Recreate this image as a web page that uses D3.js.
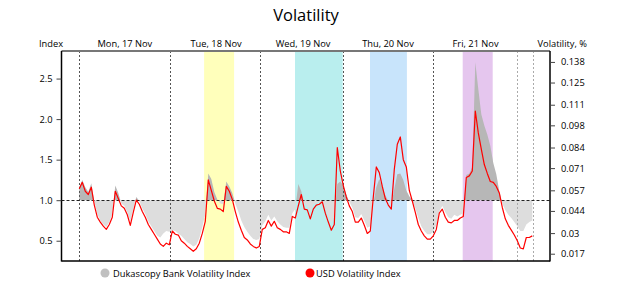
<!DOCTYPE html>
<html><head><meta charset="utf-8">
<script src="https://cdn.jsdelivr.net/npm/d3@7/dist/d3.min.js"></script>
<style>
body{margin:0;background:#fff}
svg{display:block}
text{font-family:"Open Sans","Noto Sans",sans-serif;fill:#000}
</style>
</head><body>
<svg id="chart" width="625" height="281"></svg>
<script>
// ---- data ----
const usdIndex = [
1.14,1.22,1.11,1.07,1.16,0.94,0.79,0.73,0.68,0.64,
0.70,0.79,1.11,1.02,0.93,0.90,0.82,0.69,0.85,1.00,
0.95,0.86,0.79,0.70,0.64,0.58,0.52,0.46,0.43,0.47,
0.45,0.62,0.58,0.57,0.50,0.47,0.43,0.40,0.37,0.40,
0.47,0.59,0.74,1.25,1.12,0.99,0.90,0.89,0.86,1.17,
1.11,1.01,0.86,0.73,0.63,0.54,0.51,0.46,0.43,0.41,
0.43,0.64,0.66,0.75,0.68,0.74,0.66,0.64,0.61,0.61,
0.59,0.80,0.78,0.93,1.07,0.89,0.88,0.77,0.89,0.94,
0.95,0.98,0.84,0.73,0.63,0.70,1.65,1.36,1.18,1.04,
0.93,0.86,0.73,0.73,0.78,0.69,0.59,0.62,1.04,1.41,
1.34,1.17,1.02,0.94,0.89,1.38,1.69,1.78,1.50,1.41,
1.12,0.99,0.85,0.70,0.62,0.56,0.52,0.52,0.56,0.64,
0.84,0.89,0.79,0.73,0.72,0.75,0.75,0.78,0.80,1.28,
1.30,1.36,2.10,1.83,1.63,1.44,1.33,1.23,1.22,1.17,
1.09,0.91,0.77,0.69,0.63,0.57,0.50,0.41,0.40,0.54,
0.54,0.56
];
const dukascopyIndex = [
1.16,1.25,1.16,1.10,1.21,0.98,0.83,0.75,0.70,0.67,
0.73,0.83,1.18,1.09,0.96,0.93,0.85,0.74,0.89,1.04,
0.99,0.90,0.83,0.74,0.68,0.62,0.56,0.54,0.59,0.62,
0.61,0.63,0.62,0.59,0.56,0.52,0.48,0.46,0.43,0.45,
0.53,0.67,0.83,1.33,1.26,1.10,1.01,0.96,0.95,1.23,
1.17,1.09,0.96,0.86,0.75,0.67,0.61,0.56,0.52,0.51,
0.52,0.69,0.74,0.82,0.75,0.80,0.74,0.70,0.67,0.66,
0.66,0.84,0.89,1.20,1.11,0.96,0.93,0.86,0.95,0.96,
0.98,0.99,0.89,0.80,0.72,0.79,1.20,1.23,1.18,1.07,
0.98,0.91,0.79,0.78,0.83,0.75,0.66,0.68,0.96,1.16,
1.26,1.16,1.06,0.99,0.94,1.14,1.32,1.33,1.25,1.12,
1.05,1.00,0.90,0.78,0.68,0.62,0.58,0.58,0.61,0.69,
0.86,0.93,0.85,0.79,0.77,0.82,0.80,0.82,0.84,1.31,
1.33,1.41,2.70,2.37,2.06,1.92,1.81,1.67,1.46,1.32,
1.11,0.96,0.88,0.82,0.78,0.73,0.68,0.62,0.62,0.70,
0.73,0.75
];
const dayLabels = ["Mon, 17 Nov","Tue, 18 Nov","Wed, 19 Nov","Thu, 20 Nov","Fri, 21 Nov"];
const dayLabelAt = [15.2, 45.6, 74.6, 102.9, 132.1];      // sample index of label centre
const dayBreaks = [0, 30.33, 60.33, 87.8, 118];            // day separators (sample index)
const weekendBreaks = [146, 151.1];
const sessionStart = [41.6, 71.9, 96.9, 127.8];            // highlighted sessions (sample index)
const sessionEnd   = [51.6, 87.8, 109.2, 137.8];
const indexTicks = [0.5, 1.0, 1.5, 2.0, 2.5];
const volatilityTicks = [0.017, 0.03, 0.044, 0.057, 0.071, 0.084, 0.098, 0.111, 0.125, 0.138];
const seriesNames = ["Dukascopy Bank Volatility Index", "USD Volatility Index"];

// ---- styles / layout ----
const sessionColors = ["#ffffbb", "#b9eeee", "#c8e4fb", "#e5c6ee"];
const L = 61.5, R = 550, T = 51, B = 261;
const FS = "9.3px";

const svg = d3.select("#chart");
const x = d3.scaleLinear().domain([-5.93, 156.9]).range([L, R]);
const y = d3.scaleLinear().domain([0.25, 2.84]).range([B, T]);
const yR = d3.scaleLinear().domain([0.0124, 0.1449]).range([B, T]);

svg.append("text").attr("x", 306).attr("y", 21).attr("text-anchor", "middle")
  .style("font-size", "16.5px").text("Volatility");

// session bands
svg.append("g").selectAll("rect").data(sessionStart).join("rect")
  .attr("x", (d) => x(d)).attr("width", (d, i) => x(sessionEnd[i]) - x(d))
  .attr("y", T).attr("height", B - T)
  .attr("fill", (d, i) => sessionColors[i]);

// clip paths for above/below baseline
const defs = svg.append("defs");
defs.append("clipPath").attr("id", "above").append("rect")
  .attr("x", L).attr("y", T).attr("width", R - L).attr("height", y(1) - T);
defs.append("clipPath").attr("id", "below").append("rect")
  .attr("x", L).attr("y", y(1)).attr("width", R - L).attr("height", B - y(1));

const area = d3.area().x((d, i) => x(i)).y0(y(1)).y1((d) => y(d));
svg.append("path").datum(dukascopyIndex).attr("d", area)
  .attr("fill", "#b7b7b7").attr("clip-path", "url(#above)");
svg.append("path").datum(dukascopyIndex).attr("d", area)
  .attr("fill", "#dddddd").attr("clip-path", "url(#below)");

// day separators
svg.append("g").selectAll("line").data(dayBreaks).join("line")
  .attr("x1", (d) => Math.round(x(d)) + 0.5).attr("x2", (d) => Math.round(x(d)) + 0.5)
  .attr("y1", T).attr("y2", B)
  .attr("stroke", "#555").attr("stroke-dasharray", "2,2").attr("stroke-width", 1);
svg.append("g").selectAll("line").data(weekendBreaks).join("line")
  .attr("x1", (d) => Math.round(x(d)) + 0.5).attr("x2", (d) => Math.round(x(d)) + 0.5)
  .attr("y1", T).attr("y2", B)
  .attr("stroke", "#aaa").attr("stroke-dasharray", "2,2").attr("stroke-width", 1);

// baseline 1.0
svg.append("line").attr("x1", L).attr("x2", R)
  .attr("y1", Math.round(y(1)) + 0.5).attr("y2", Math.round(y(1)) + 0.5)
  .attr("stroke", "#222").attr("stroke-dasharray", "3,2");

// USD line
svg.append("path").datum(usdIndex)
  .attr("d", d3.line().x((d, i) => x(i)).y((d) => y(d)))
  .attr("fill", "none").attr("stroke", "#ff0000").attr("stroke-width", 1.2)
  .attr("stroke-linejoin", "round");

// frame
svg.append("line").attr("x1", L).attr("x2", R).attr("y1", T).attr("y2", T)
  .attr("stroke", "#777").attr("stroke-width", 2);
svg.append("line").attr("x1", L).attr("x2", L).attr("y1", T).attr("y2", B + 0.5)
  .attr("stroke", "#000").attr("stroke-width", 1.5);
svg.append("line").attr("x1", R).attr("x2", R).attr("y1", T).attr("y2", B + 0.5)
  .attr("stroke", "#000").attr("stroke-width", 1.5);
svg.append("line").attr("x1", L).attr("x2", R).attr("y1", B).attr("y2", B)
  .attr("stroke", "#000").attr("stroke-width", 1.5);

// axes
const gl = svg.append("g").attr("transform", `translate(${L},0)`)
  .call(d3.axisLeft(y).tickValues(indexTicks).tickSize(5).tickPadding(4).tickFormat(d3.format(".1f")));
gl.select(".domain").remove();
gl.selectAll("text").style("font-size", FS).style("font-family", "'Open Sans',sans-serif");
gl.selectAll("line").attr("stroke", "#444");

const gr = svg.append("g").attr("transform", `translate(${R},0)`)
  .call(d3.axisRight(yR).tickValues(volatilityTicks).tickSize(5).tickPadding(6).tickFormat((d) => String(d)));
gr.select(".domain").remove();
gr.selectAll("text").style("font-size", FS).style("font-family", "'Open Sans',sans-serif");
gr.selectAll("line").attr("stroke", "#444");

// day labels
svg.append("g").selectAll("text").data(dayLabels).join("text")
  .attr("x", (d, i) => x(dayLabelAt[i])).attr("y", 46.5).attr("text-anchor", "middle")
  .style("font-size", FS).text((d) => d);
svg.append("text").attr("x", 63).attr("y", 46.5).attr("text-anchor", "end")
  .style("font-size", FS).text("Index");
svg.append("text").attr("x", 587).attr("y", 46.5).attr("text-anchor", "end")
  .style("font-size", FS).text("Volatility, %");

// legend
const legendX = [105, 310];
const legendColors = ["#c0c0c0", "#ff0000"];
const lg = svg.append("g").selectAll("g").data(seriesNames).join("g")
  .attr("transform", (d, i) => `translate(${legendX[i]},273)`);
lg.append("circle").attr("r", 4.5).attr("fill", (d, i) => legendColors[i]);
lg.append("text").attr("x", (d, i) => i === 0 ? 8 : 6).attr("y", 3.5)
  .style("font-size", FS).text((d) => d);
</script>
</body></html>
